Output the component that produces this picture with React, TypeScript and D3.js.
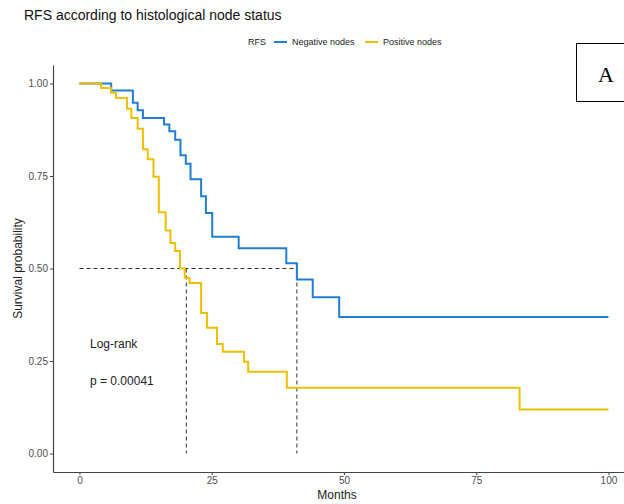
import React, { useEffect, useRef } from 'react';
import * as d3 from 'd3';

// Kaplan-Meier steps (months, survival)
const negTimes = [0, 6.0, 10.1, 11.0, 12.0, 16.0, 17.0, 18.1, 19.1, 20.1, 21.0, 23.0, 23.9, 25.1, 30.1, 39.1, 41.1, 44.1, 49.1, 100];
const negSurv = [1, 0.981, 0.948, 0.928, 0.907, 0.889, 0.871, 0.848, 0.806, 0.783, 0.741, 0.695, 0.650, 0.586, 0.555, 0.514, 0.470, 0.422, 0.369, 0.369];

const posTimes = [0, 4.1, 6.0, 6.9, 9.0, 9.8, 11.0, 12.0, 12.9, 14.0, 15.0, 16.3, 17.2, 18.1, 19.0, 19.9, 20.8, 23.0, 24.1, 26.0, 27.1, 31.1, 31.9, 39.2, 83.2, 100];
const posSurv = [1, 0.988, 0.975, 0.961, 0.932, 0.907, 0.878, 0.822, 0.795, 0.748, 0.652, 0.603, 0.569, 0.547, 0.500, 0.475, 0.461, 0.380, 0.340, 0.296, 0.275, 0.248, 0.221, 0.178, 0.119, 0.119];

const medians = [20.2, 41.1];
const xTicks = [0, 25, 50, 75, 100];
const yTicks = [0, 0.25, 0.5, 0.75, 1];
const seriesNames = ['Negative nodes', 'Positive nodes'];
const seriesColors = ['#1f7fd2', '#efc000'];

const FONT = '"Liberation Sans", Arial, Helvetica, sans-serif';

function App() {
  const ref = useRef(null);

  useEffect(() => {
    drawChart();
  }, []);

  function drawChart() {
    const root = d3.select(ref.current);
    root.selectAll('*').remove();

    const width = 624;
    const height = 504;

    const svg = root
      .append('svg')
      .attr('width', width)
      .attr('height', height)
      .style('position', 'absolute')
      .style('left', 0)
      .style('top', 0)
      .style('background', '#fff')
      .style('font-family', FONT);

    // panel: ggplot style 5% expansion on both axes
    const xScale = d3.scaleLinear().domain([-5, 105]).range([53, 53 + 110 * 5.29]);
    const yScale = d3.scaleLinear().domain([-0.05, 1.05]).range([472, 65]);

    // title
    svg.append('text')
      .attr('x', 24)
      .attr('y', 20)
      .style('font-size', '14px')
      .attr('fill', '#111')
      .text('RFS according to histological node status');

    // legend
    const lg = svg.append('g').style('font-size', '9px').attr('fill', '#222');
    lg.append('text').attr('x', 248).attr('y', 45).text('RFS');
    lg.append('line').attr('x1', 274).attr('x2', 287).attr('y1', 42).attr('y2', 42)
      .attr('stroke', seriesColors[0]).attr('stroke-width', 2);
    lg.append('text').attr('x', 292).attr('y', 45).text(seriesNames[0]);
    lg.append('line').attr('x1', 365).attr('x2', 378).attr('y1', 42).attr('y2', 42)
      .attr('stroke', seriesColors[1]).attr('stroke-width', 2);
    lg.append('text').attr('x', 383).attr('y', 45).text(seriesNames[1]);

    // axes
    const yAxis = svg.append('g')
      .attr('transform', 'translate(53,0)')
      .call(d3.axisLeft(yScale).tickValues(yTicks).tickFormat(d3.format('.2f')).tickSize(3).tickSizeOuter(0).tickPadding(2));
    const xAxis = svg.append('g')
      .attr('transform', 'translate(0,472)')
      .call(d3.axisBottom(xScale).tickValues(xTicks).tickSize(3).tickSizeOuter(0).tickPadding(2));
    [xAxis, yAxis].forEach(a => {
      a.select('.domain').attr('stroke', '#444').attr('stroke-width', 1.2);
      a.selectAll('.tick line').attr('stroke', '#444');
      a.selectAll('.tick text').attr('fill', '#4d4d4d').style('font-size', '10px').style('font-family', FONT);
    });

    svg.append('text')
      .attr('x', 337)
      .attr('y', 499)
      .attr('text-anchor', 'middle')
      .style('font-size', '12px')
      .attr('fill', '#222')
      .text('Months');

    svg.append('text')
      .attr('transform', `translate(22,${yScale(0.5)}) rotate(-90)`)
      .attr('text-anchor', 'middle')
      .style('font-size', '12px')
      .attr('fill', '#222')
      .text('Survival probability');

    // median lines
    const dash = '4,3';
    svg.append('line')
      .attr('x1', xScale(0)).attr('x2', xScale(medians[1]))
      .attr('y1', yScale(0.5)).attr('y2', yScale(0.5))
      .attr('stroke', '#333').attr('stroke-width', 1).attr('stroke-dasharray', dash);
    medians.forEach(m => {
      svg.append('line')
        .attr('x1', xScale(m)).attr('x2', xScale(m))
        .attr('y1', yScale(0.5)).attr('y2', yScale(0))
        .attr('stroke', '#333').attr('stroke-width', 1).attr('stroke-dasharray', dash);
    });

    // survival curves
    const line = d3.line()
      .x(d => xScale(d[0]))
      .y(d => yScale(d[1]))
      .curve(d3.curveStepAfter);

    const series = [
      negTimes.map((t, i) => [t, negSurv[i]]),
      posTimes.map((t, i) => [t, posSurv[i]])
    ];
    series.forEach((s, i) => {
      svg.append('path')
        .datum(s)
        .attr('d', line)
        .attr('fill', 'none')
        .attr('stroke', seriesColors[i])
        .attr('stroke-width', 2);
    });

    // log-rank annotation
    svg.append('text').attr('x', 90).attr('y', 348).style('font-size', '12px').attr('fill', '#222').text('Log-rank');
    svg.append('text').attr('x', 90).attr('y', 385).style('font-size', '12px').attr('fill', '#222').text('p = 0.00041');

    // panel letter box
    svg.append('rect')
      .attr('x', 576.5).attr('y', 43.5).attr('width', 60).attr('height', 58)
      .attr('fill', '#fff').attr('stroke', '#000').attr('stroke-width', 1);
    svg.append('text')
      .attr('x', 598).attr('y', 82)
      .style('font-family', '"Liberation Serif", "Times New Roman", serif')
      .style('font-size', '22px')
      .attr('fill', '#000')
      .text('A');
  }

  return <div id="container" ref={ref} />;
}

export default App;
